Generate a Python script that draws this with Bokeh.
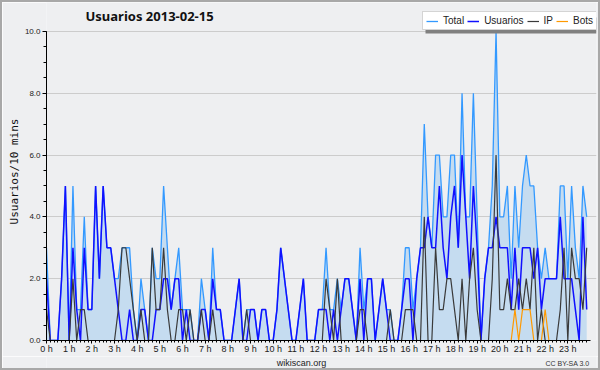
from bokeh.plotting import figure
from bokeh.layouts import column
from bokeh.models import (FixedTicker, Label, Legend, LegendItem, Range1d, BoxAnnotation)
from bokeh.embed import file_html
from bokeh.resources import INLINE

# ---- data (10-minute buckets, 2013-02-15) ----
minutes = list(range(0, 1440, 10))
hour_ticks = list(range(0, 24))
hour_labels = [f"{h} h" for h in hour_ticks]
y_ticks = [0, 2, 4, 6, 8, 10]
y_labels = ["0.0", "2.0", "4.0", "6.0", "8.0", "10.0"]

usuarios = [
    2, 0, 0, 0, 2, 5, 0, 3, 1, 0, 3, 1,
    1, 5, 2, 5, 3, 3, 2, 1, 0, 0, 1, 0,
    0, 1, 1, 0, 0, 1, 1, 2, 2, 1, 2, 2,
    0, 1, 0, 0, 0, 1, 1, 0, 2, 1, 1, 0,
    0, 0, 1, 2, 0, 0, 1, 1, 0, 1, 1, 0,
    0, 1, 3, 2, 1, 0, 0, 1, 2, 0, 0, 0,
    1, 1, 1, 0, 1, 0, 1, 2, 2, 1, 0, 2,
    0, 2, 2, 0, 1, 2, 1, 0, 0, 0, 1, 2,
    2, 0, 2, 3, 3, 4, 3, 3, 5, 3, 2, 4,
    5, 3, 6, 4, 2, 5, 3, 0, 2, 3, 3, 4,
    3, 3, 3, 1, 3, 1, 3, 3, 3, 2, 3, 1,
    2, 2, 2, 2, 4, 2, 2, 2, 1, 0, 4, 1,
]
ip = [
    1, 0, 0, 0, 0, 0, 0, 2, 0, 1, 1, 0,
    0, 0, 0, 0, 0, 0, 0, 1, 3, 3, 2, 1,
    0, 1, 0, 0, 3, 1, 1, 3, 1, 0, 0, 1,
    1, 0, 1, 0, 0, 1, 0, 0, 1, 0, 0, 0,
    0, 0, 0, 0, 0, 1, 0, 0, 0, 0, 0, 0,
    0, 0, 0, 0, 0, 0, 0, 0, 0, 0, 0, 0,
    0, 0, 2, 1, 0, 2, 0, 0, 0, 0, 0, 1,
    1, 0, 0, 0, 0, 0, 0, 1, 0, 0, 0, 1,
    1, 1, 0, 0, 4, 0, 0, 3, 1, 1, 2, 2,
    1, 0, 2, 0, 2, 3, 1, 0, 0, 0, 2, 6,
    1, 1, 2, 1, 1, 2, 1, 2, 1, 3, 0, 1,
    0, 0, 0, 0, 1, 3, 0, 3, 2, 2, 1, 3,
]
bots = [
    0, 0, 0, 0, 0, 0, 0, 0, 0, 0, 0, 0,
    0, 0, 0, 0, 0, 0, 0, 0, 0, 0, 0, 0,
    0, 0, 0, 0, 0, 0, 0, 0, 0, 0, 0, 0,
    0, 0, 0, 0, 0, 0, 0, 0, 0, 0, 0, 0,
    0, 0, 0, 0, 0, 0, 0, 0, 0, 0, 0, 0,
    0, 0, 0, 0, 0, 0, 0, 0, 0, 0, 0, 0,
    0, 0, 0, 0, 0, 0, 0, 0, 0, 0, 0, 0,
    0, 0, 0, 0, 0, 0, 0, 0, 0, 0, 0, 0,
    0, 0, 0, 0, 0, 0, 0, 0, 0, 0, 0, 0,
    0, 0, 0, 0, 0, 0, 0, 0, 0, 0, 0, 0,
    0, 0, 0, 0, 1, 0, 1, 1, 1, 0, 0, 0,
    1, 0, 0, 0, 0, 0, 0, 0, 0, 0, 0, 0,
]
total = [
    3, 0, 0, 0, 2, 5, 0, 5, 1, 1, 4, 1,
    1, 5, 2, 5, 3, 3, 2, 2, 3, 3, 3, 1,
    0, 2, 1, 0, 3, 2, 2, 5, 3, 1, 2, 3,
    1, 1, 1, 0, 0, 2, 1, 0, 3, 1, 1, 0,
    0, 0, 1, 2, 0, 1, 1, 1, 0, 1, 1, 0,
    0, 1, 3, 2, 1, 0, 0, 1, 2, 0, 0, 0,
    1, 1, 3, 1, 1, 2, 1, 2, 2, 1, 0, 3,
    1, 2, 2, 0, 1, 2, 1, 1, 0, 0, 1, 3,
    3, 1, 2, 3, 7, 4, 3, 6, 6, 4, 4, 6,
    6, 3, 8, 4, 4, 8, 4, 0, 2, 3, 5, 10,
    4, 4, 5, 2, 5, 3, 5, 6, 5, 5, 3, 2,
    3, 2, 2, 2, 5, 5, 2, 5, 3, 2, 5, 4,
]

hours = [m / 60 for m in minutes]

BG = "#eeeff1"
FONT = "Liberation Sans"

# main chart: frame reaches the canvas top; y=10 sits ~29px below it
p = figure(width=596, height=354, output_backend="svg", toolbar_location=None, title=None,
           x_range=Range1d(0, 24.265), y_range=Range1d(0, 10.935),
           min_border_left=44, min_border_right=2, min_border_top=0, min_border_bottom=0,
           background_fill_color=BG, border_fill_color=BG, outline_line_color=None)

p.varea(x=hours, y1=0, y2=total, fill_color="#c5dcf0", fill_alpha=1.0)
r_total = p.line(hours, total, line_color="#3399ff", line_width=1.3)
r_user = p.line(hours, usuarios, line_color="#1010ff", line_width=1.5)
r_ip = p.line(hours, ip, line_color="#3a3a3a", line_width=1.2)
r_bots = p.line(hours, bots, line_color="#ff9900", line_width=1.2)

xa = p.xaxis[0]
xa.bounds = (0, 24)
xa.ticker = FixedTicker(ticks=hour_ticks, minor_ticks=[m / 60 for m in minutes])
xa.major_label_overrides = {h: lab for h, lab in zip(hour_ticks, hour_labels)}
xa.major_tick_out = 3
xa.major_tick_in = 0
xa.minor_tick_out = 2
xa.minor_tick_in = 0
xa.major_label_standoff = 0
xa.major_label_text_font = FONT
xa.major_label_text_font_size = "9px"
xa.major_label_text_color = "#222222"
xa.axis_line_color = "black"

ya = p.yaxis[0]
ya.bounds = (0, 10)
ya.ticker = FixedTicker(ticks=y_ticks, minor_ticks=[v / 2 for v in range(0, 21)])
ya.major_label_overrides = {v: lab for v, lab in zip(y_ticks, y_labels)}
ya.major_tick_out = 4
ya.major_tick_in = 0
ya.minor_tick_out = 3
ya.minor_tick_in = 0
ya.major_label_standoff = 2
ya.major_label_text_font = FONT
ya.major_label_text_font_size = "8px"
ya.major_label_text_color = "#222222"
ya.axis_line_color = "black"
ya.axis_label = "Usuarios/10 mins"
ya.axis_label_text_font = "DejaVu Sans Mono"
ya.axis_label_text_font_size = "11px"
ya.axis_label_text_font_style = "normal"
ya.axis_label_text_color = "#111111"
ya.axis_label_standoff = 1

p.xgrid.grid_line_color = None
p.ygrid.ticker = FixedTicker(ticks=[2, 4, 6, 8, 10])
p.ygrid.grid_line_color = "#cccccc"

# legend with a drop shadow
LEG_X, LEG_Y, LEG_W, LEG_H = 376, 310, 171, 16
p.add_layout(BoxAnnotation(left=LEG_X + 3, right=LEG_X + LEG_W + 3,
                           bottom=LEG_Y - 3, top=LEG_Y + LEG_H - 3,
                           left_units="screen", right_units="screen",
                           bottom_units="screen", top_units="screen",
                           fill_color="#808080", fill_alpha=1.0, line_color=None))
legend = Legend(items=[LegendItem(label="Total", renderers=[r_total]),
                       LegendItem(label="Usuarios", renderers=[r_user]),
                       LegendItem(label="IP", renderers=[r_ip]),
                       LegendItem(label="Bots", renderers=[r_bots])],
                orientation="horizontal", location=(LEG_X, LEG_Y),
                label_text_font=FONT, label_text_font_size="10px",
                label_text_color="#222222",
                glyph_width=12, glyph_height=10, label_standoff=5, spacing=3,
                padding=3, margin=0, label_height=10, label_width=0,
                border_line_color="#aaaaaa", border_line_width=1,
                background_fill_color="white", background_fill_alpha=1.0)
p.add_layout(legend, "center")

p.add_layout(Label(x=39, y=10.51, x_units="screen", y_units="data",
                   text="Usuarios  2013-02-15", text_font="Noto Sans",
                   text_font_style="bold", text_font_size="13px",
                   text_baseline="middle", text_align="left", text_color="#111111"))

# footer strip with the credits (its frame is aligned with the chart frame)
f = figure(width=596, height=12, output_backend="svg", toolbar_location=None, title=None,
           x_range=Range1d(0, 1), y_range=Range1d(0, 1),
           x_axis_type=None, y_axis_type=None,
           min_border_left=0, min_border_right=0, min_border_top=0, min_border_bottom=0,
           background_fill_color=BG, border_fill_color=BG, outline_line_color=None)
f.add_layout(Label(x=255, y=6, x_units="screen", y_units="screen",
                   text="wikiscan.org", text_font=FONT, text_font_size="9px",
                   text_baseline="middle", text_align="center", text_color="#222222"))
f.add_layout(Label(x=543, y=5, x_units="screen", y_units="screen",
                   text="CC BY-SA 3.0", text_font=FONT, text_font_size="7px",
                   text_baseline="middle", text_align="right", text_color="#333333"))

page = column(p, f, spacing=0, styles={"border": "2px solid #a8a8a8"})

open("out.html", "w").write(file_html(page, INLINE))
